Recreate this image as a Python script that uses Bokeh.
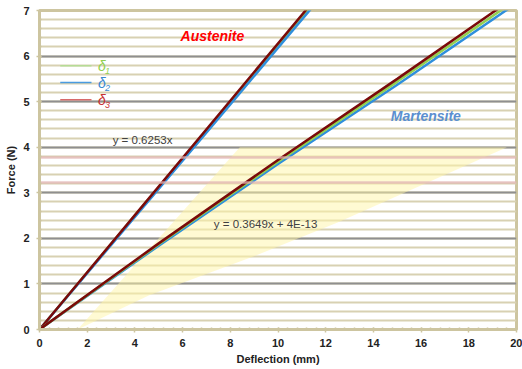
from bokeh.plotting import figure
from bokeh.models import Range1d, SingleIntervalTicker
from bokeh.core.properties import value
from bokeh.embed import file_html
from bokeh.resources import INLINE

# ---- data ----
aus_x = [0, 4, 8, 12]
aus_d1 = [0, 2.50, 4.99, 7.49]
aus_d2 = [0, 2.47, 4.94, 7.42]
aus_d3 = [0, 2.51, 5.02, 7.53]

mart_x = [0, 5, 10, 15, 20]
mart_d1 = [0, 1.87, 3.68, 5.44, 7.24]
mart_d2 = [0, 1.84, 3.63, 5.37, 7.16]
mart_d3 = [0, 1.89, 3.72, 5.50, 7.32]

glow_x = [1.6, 8.4, 19.6, 12.5, 9.2, 4.6]
glow_y = [0.0, 4.0, 4.0, 2.35, 1.65, 0.75]

pink_levels = [3.22, 3.78]

series_names = ["δ", "δ", "δ"]
series_subs = ["1", "2", "3"]

ann_text = ["Austenite", "Martensite"]
ann_x = [7.25, 16.2]
ann_y = [6.44, 4.68]

eq_text = ["y = 0.6253x", "y = 0.3649x + 4E-13"]
eq_x = [4.32, 9.48]
eq_y = [4.16, 2.31]

FONT = "Liberation Sans"
TAN = "#cdc5a0"
c_green, c_blue, c_red = "#92d050", "#2f8fdc", "#7a0a0a"

p = figure(width=522, height=369, x_range=Range1d(0, 20), y_range=Range1d(0, 7),
           output_backend="svg", toolbar_location=None,
           min_border_left=39, min_border_right=6, min_border_top=10, min_border_bottom=40)
p.background_fill_color = "white"
p.border_fill_color = "white"
p.outline_line_color = TAN
p.outline_line_width = 3

p.xaxis.ticker = SingleIntervalTicker(interval=2, num_minor_ticks=5)
p.yaxis.ticker = SingleIntervalTicker(interval=1, num_minor_ticks=5)
p.xgrid.grid_line_color = None
p.ygrid.grid_line_color = "#8f8f8f"
p.ygrid.grid_line_width = 2
p.ygrid.minor_grid_line_color = "#d8d1b2"
p.ygrid.minor_grid_line_width = 2

for ax in (p.xaxis[0], p.yaxis[0]):
    ax.axis_line_color = TAN
    ax.axis_line_width = 3
    ax.major_tick_line_color = TAN
    ax.minor_tick_line_color = TAN
    ax.major_tick_line_width = 1.5
    ax.minor_tick_line_width = 1.5
    ax.major_tick_in = 2
    ax.major_tick_out = 3
    ax.minor_tick_in = 2
    ax.minor_tick_out = 1
    ax.major_label_text_font = FONT
    ax.major_label_text_font_style = "bold"
    ax.major_label_text_font_size = "11px"
    ax.major_label_text_color = "#222222"
    ax.axis_label_text_font = FONT
    ax.axis_label_text_font_style = "bold"
    ax.axis_label_text_font_size = "11px"
    ax.axis_label_text_color = "#222222"
    ax.axis_label_standoff = 3

p.xaxis.axis_label = "Deflection (mm)"
p.yaxis.axis_label = "Force (N)"
p.xaxis.major_label_standoff = 6
p.yaxis.major_label_standoff = 7

# yellow glow
p.patch(glow_x, glow_y, fill_color="#fff6a8", fill_alpha=0.5, line_color=None)

# data lines
for ys, c in ((aus_d1, c_green), (aus_d2, c_blue), (aus_d3, c_red)):
    p.line(aus_x, ys, line_color=c, line_width=2.5)
for ys, c in ((mart_d2, c_blue), (mart_d1, c_green), (mart_d3, c_red)):
    p.line(mart_x, ys, line_color=c, line_width=2.5)

# pink reference lines
p.hspan(y=pink_levels, line_color="#e3b5b5", line_width=2.5, line_alpha=0.75)

# annotations
p.text(x=ann_x[:1], y=ann_y[:1], text=ann_text[:1], text_color="#ff0000",
       text_font=value(FONT), text_font_style="bold italic", text_font_size="14px",
       text_align="center", text_baseline="middle")
p.text(x=ann_x[1:], y=ann_y[1:], text=ann_text[1:], text_color="#5b8fd0",
       text_font=value(FONT), text_font_style="bold italic", text_font_size="14px",
       text_align="center", text_baseline="middle")
p.text(x=eq_x, y=eq_y, text=eq_text, text_color="#404040",
       text_font=value(FONT), text_font_size="11.5px",
       text_align="center", text_baseline="middle")

# legend (manual)
leg_y = [5.79, 5.42, 5.04]
leg_line_cols = ["#b5dc96", "#4a9be0", "#d86a6a"]
leg_text_cols = ["#92d050", "#3a88d0", "#c83232"]
p.segment(x0=[0.87] * 3, x1=[2.18] * 3, y0=leg_y, y1=leg_y, line_color=leg_line_cols, line_width=1.5)
p.text(x=[2.45] * 3, y=leg_y, text=series_names, text_color=leg_text_cols,
       text_font=value(FONT), text_font_style="italic", text_font_size="14px",
       text_align="left", text_baseline="middle")
p.text(x=[2.45] * 3, y=leg_y, text=series_subs, text_color=leg_text_cols,
       text_font=value(FONT), text_font_style="italic", text_font_size="9px",
       text_align="left", text_baseline="middle", x_offset=7, y_offset=5)

open("out.html", "w").write(file_html(p, INLINE))
